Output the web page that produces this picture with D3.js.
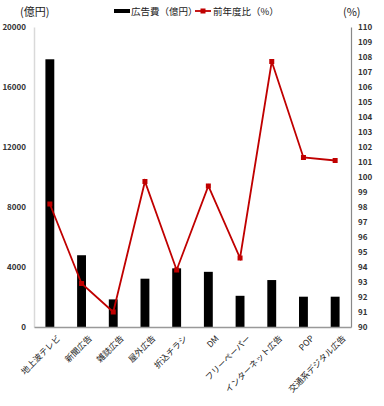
<!DOCTYPE html>
<html>
<head>
<meta charset="utf-8">
<script src="https://cdn.jsdelivr.net/npm/d3@7"></script>
<style>
  body { margin: 0; background: #fff; }
  text { font-family: "Noto Sans CJK JP", "Noto Sans", sans-serif; }
</style>
</head>
<body>
<div id="chart"></div>
<script>
/* data */
const categories = ["地上波テレビ", "新聞広告", "雑誌広告", "屋外広告", "折込チラシ", "DM",
                    "フリーペーパー", "インターネット広告", "POP", "交通系デジタル広告"];
const adSpend = [17848, 4784, 1841, 3220, 3911, 3678, 2080, 3130, 2020, 2020];
const yoy = [98.2, 92.9, 91.0, 99.7, 93.8, 99.4, 94.6, 107.7, 101.3, 101.1];
const leftTicks = [0, 4000, 8000, 12000, 16000, 20000];
const rightTicks = d3.range(90, 111);

const W = 384, H = 406;
const MARGIN = { LEFT: 34, RIGHT: 33, TOP: 27, BOTTOM: 79 };
const RED = "#c00000";

const svg = d3.select("#chart").append("svg")
    .attr("width", W)
    .attr("height", H);

const x = d3.scaleBand()
    .domain(categories)
    .range([MARGIN.LEFT, W - MARGIN.RIGHT]);

const yL = d3.scaleLinear()
    .domain([0, 20000])
    .range([H - MARGIN.BOTTOM, MARGIN.TOP]);

const yR = d3.scaleLinear()
    .domain([90, 110])
    .range([H - MARGIN.BOTTOM, MARGIN.TOP]);

const barW = x.bandwidth() * 0.28;
const cx = d => x(d) + x.bandwidth() / 2;

// bars
svg.append("g").selectAll("rect")
    .data(categories)
    .enter().append("rect")
    .attr("x", (d) => cx(d) - barW / 2)
    .attr("y", (d, i) => yL(adSpend[i]))
    .attr("width", barW)
    .attr("height", (d, i) => yL(0) - yL(adSpend[i]))
    .attr("fill", "black");

// left axis
const leftAxis = svg.append("g")
    .attr("transform", `translate(${MARGIN.LEFT},0)`)
    .call(d3.axisLeft(yL).tickValues(leftTicks).tickSize(0).tickPadding(8).tickFormat(d3.format("d")));
leftAxis.select(".domain").attr("stroke", "#d9d9d9").attr("stroke-width", 1.5);
leftAxis.selectAll("text").attr("font-size", 8).attr("font-weight", "bold").attr("fill", "#333")
    .attr("font-family", "Liberation Sans, Arial, sans-serif");

// right axis
const rightAxis = svg.append("g")
    .attr("transform", `translate(${W - MARGIN.RIGHT},0)`)
    .call(d3.axisRight(yR).tickValues(rightTicks).tickSize(0).tickPadding(7));
rightAxis.select(".domain").attr("stroke", "#888").attr("stroke-width", 1.2);
rightAxis.selectAll("text").attr("font-size", 8).attr("font-weight", "bold").attr("fill", "#333")
    .attr("font-family", "Liberation Sans, Arial, sans-serif");

// bottom axis
const bottomAxis = svg.append("g")
    .attr("transform", `translate(0,${H - MARGIN.BOTTOM})`)
    .call(d3.axisBottom(x).tickSize(0).tickPadding(6));
bottomAxis.select(".domain").attr("stroke", "#999").attr("stroke-width", 1.5);
bottomAxis.selectAll("text")
    .attr("font-size", 8.5)
    .attr("fill", "#222")
    .attr("text-anchor", "end")
    .attr("dy", "0.3em")
    .attr("transform", "translate(5,6) rotate(-45)");

// line
const line = d3.line()
    .x((d, i) => cx(categories[i]))
    .y((d) => yR(d));

svg.append("path")
    .datum(yoy)
    .attr("d", line)
    .attr("fill", "none")
    .attr("stroke", RED)
    .attr("stroke-width", 1.8);

svg.append("g").selectAll("rect")
    .data(yoy)
    .enter().append("rect")
    .attr("x", (d, i) => cx(categories[i]) - 2.5)
    .attr("y", (d) => yR(d) - 2.5)
    .attr("width", 5)
    .attr("height", 5)
    .attr("fill", RED);

// axis titles
svg.append("text").attr("x", 20).attr("y", 16).attr("font-size", 11).attr("fill", "#222").text("(億円)");
svg.append("text").attr("x", 343).attr("y", 16).attr("font-size", 11).attr("fill", "#222").text("(%)");

// legend
const lg = svg.append("g");
lg.append("rect").attr("x", 114).attr("y", 9).attr("width", 16).attr("height", 4).attr("fill", "black");
lg.append("text").attr("x", 131).attr("y", 15).attr("font-size", 9.5).attr("fill", "#222").text("広告費（億円）");
lg.append("line").attr("x1", 195).attr("x2", 211).attr("y1", 11).attr("y2", 11)
    .attr("stroke", RED).attr("stroke-width", 1.8);
lg.append("rect").attr("x", 200.5).attr("y", 8.5).attr("width", 5).attr("height", 5).attr("fill", RED);
lg.append("text").attr("x", 213).attr("y", 15).attr("font-size", 9.5).attr("fill", "#222").text("前年度比（%）");
</script>
</body>
</html>
